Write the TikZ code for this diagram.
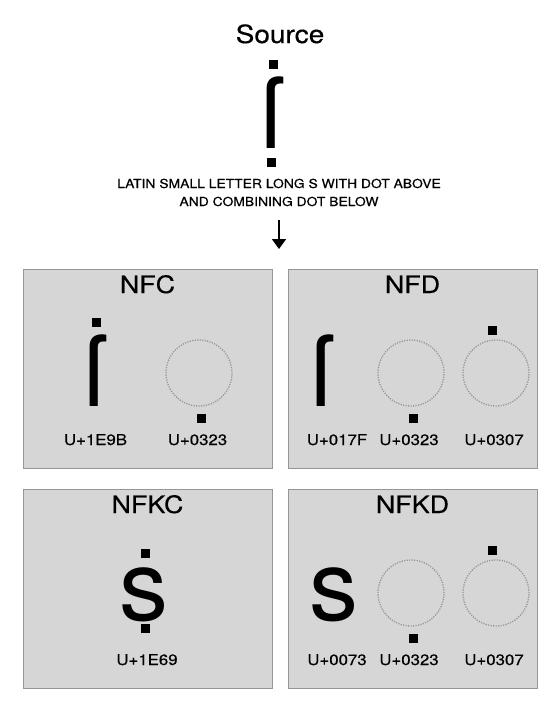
\documentclass[tikz,border=0pt]{standalone}
\usepackage{fontspec}
\setmainfont{TeX Gyre Heros}[FakeStretch=1.12, FakeBold=0.4]
\newfontfamily\glyphfont{TeX Gyre Heros}
\usetikzlibrary{arrows.meta}

\definecolor{panelgray}{RGB}{214,214,214}
\definecolor{edgegray}{RGB}{150,150,150}
\definecolor{ringgray}{RGB}{150,150,150}

\begin{document}
\begin{tikzpicture}[x=1pt,y=-1pt,
    panel/.style={draw=edgegray, fill=panelgray, line width=1pt, minimum width=249pt, minimum height=199pt, inner sep=0pt},
    heading/.style={anchor=base, inner sep=0pt, font=\fontsize{24}{28}\selectfont},
    caption/.style={anchor=base, inner sep=0pt, font=\fontsize{12.4}{14}\selectfont},
    code/.style={anchor=base, inner sep=0pt, font=\fontsize{15}{18}\selectfont},
    bigglyph/.style={anchor=base, inner sep=0pt, font=\glyphfont\fontsize{98}{100}\selectfont},
    dotmark/.style={fill=black, minimum size=9pt, inner sep=0pt},
    ring/.style={circle, draw=ringgray, line width=1.3pt, dash pattern=on 1.2pt off 1.3pt, minimum size=66pt, inner sep=0pt}]
  \useasboundingbox (0,0) rectangle (560,716);

  % source character
  \node[heading, font=\fontsize{25}{30}\selectfont] (source) at (280,43) {Source};
  \node[bigglyph] (srcglyph) at (272,148) {ſ};
  \node[dotmark] (srcabove) at (273,64.5) {};
  \node[dotmark] (srcbelow) at (271,162.5) {};
  \node[caption] (desctop) at (279,188) {LATIN SMALL LETTER LONG S WITH DOT ABOVE};
  \node[caption] (descbottom) at (279,206) {AND COMBINING DOT BELOW};
  \coordinate (arrowtop) at (279,220);
  \coordinate (arrowtip) at (279,249);
  \draw[-{Triangle[length=10pt,width=14pt]}, line width=1.8pt] (arrowtop) -- (arrowtip);

  % panels
  \node[panel] (nfc) at (147.5,368.5) {};
  \node[panel] (nfd) at (412.5,368.5) {};
  \node[panel] (nfkc) at (147.5,589) {};
  \node[panel] (nfkd) at (412.5,589) {};

  % NFC
  \node[heading] (nfctitle) at (147.5,293) {NFC};
  \node[bigglyph] (nfcglyph) at (95,406) {ſ};
  \node[dotmark] (nfcabove) at (96,322.5) {};
  \node[ring] (nfcring) at (199,373) {};
  \node[dotmark] (nfcbelow) at (201,418) {};
  \node[code] (nfccodea) at (95.5,445) {U+1E9B};
  \node[code] (nfccodeb) at (197.5,445) {U+0323};

  % NFD
  \node[heading] (nfdtitle) at (412.5,293) {NFD};
  \node[bigglyph] (nfdglyph) at (322,406) {ſ};
  \node[ring] (nfdringa) at (411,373) {};
  \node[dotmark] (nfdbelow) at (413,418) {};
  \node[ring] (nfdringb) at (496,373) {};
  \node[dotmark] (nfdabove) at (492,330) {};
  \node[code] (nfdcodea) at (337,445) {U+017F};
  \node[code] (nfdcodeb) at (409,445) {U+0323};
  \node[code] (nfdcodec) at (494,445) {U+0307};

  % NFKC
  \node[heading] (nfkctitle) at (147.5,513) {NFKC};
  \node[bigglyph] (nfkcglyph) at (144,620) {s};
  \node[dotmark] (nfkcabove) at (145,553) {};
  \node[dotmark] (nfkcbelow) at (145,628) {};
  \node[code] (nfkccode) at (147,665) {U+1E69};

  % NFKD
  \node[heading] (nfkdtitle) at (412.5,513) {NFKD};
  \node[bigglyph] (nfkdglyph) at (334,620) {s};
  \node[ring] (nfkdringa) at (411,593) {};
  \node[dotmark] (nfkdbelow) at (413,638) {};
  \node[ring] (nfkdringb) at (496,593) {};
  \node[dotmark] (nfkdabove) at (492,550) {};
  \node[code] (nfkdcodea) at (337,665) {U+0073};
  \node[code] (nfkdcodeb) at (409,665) {U+0323};
  \node[code] (nfkdcodec) at (494,665) {U+0307};
\end{tikzpicture}
\end{document}
